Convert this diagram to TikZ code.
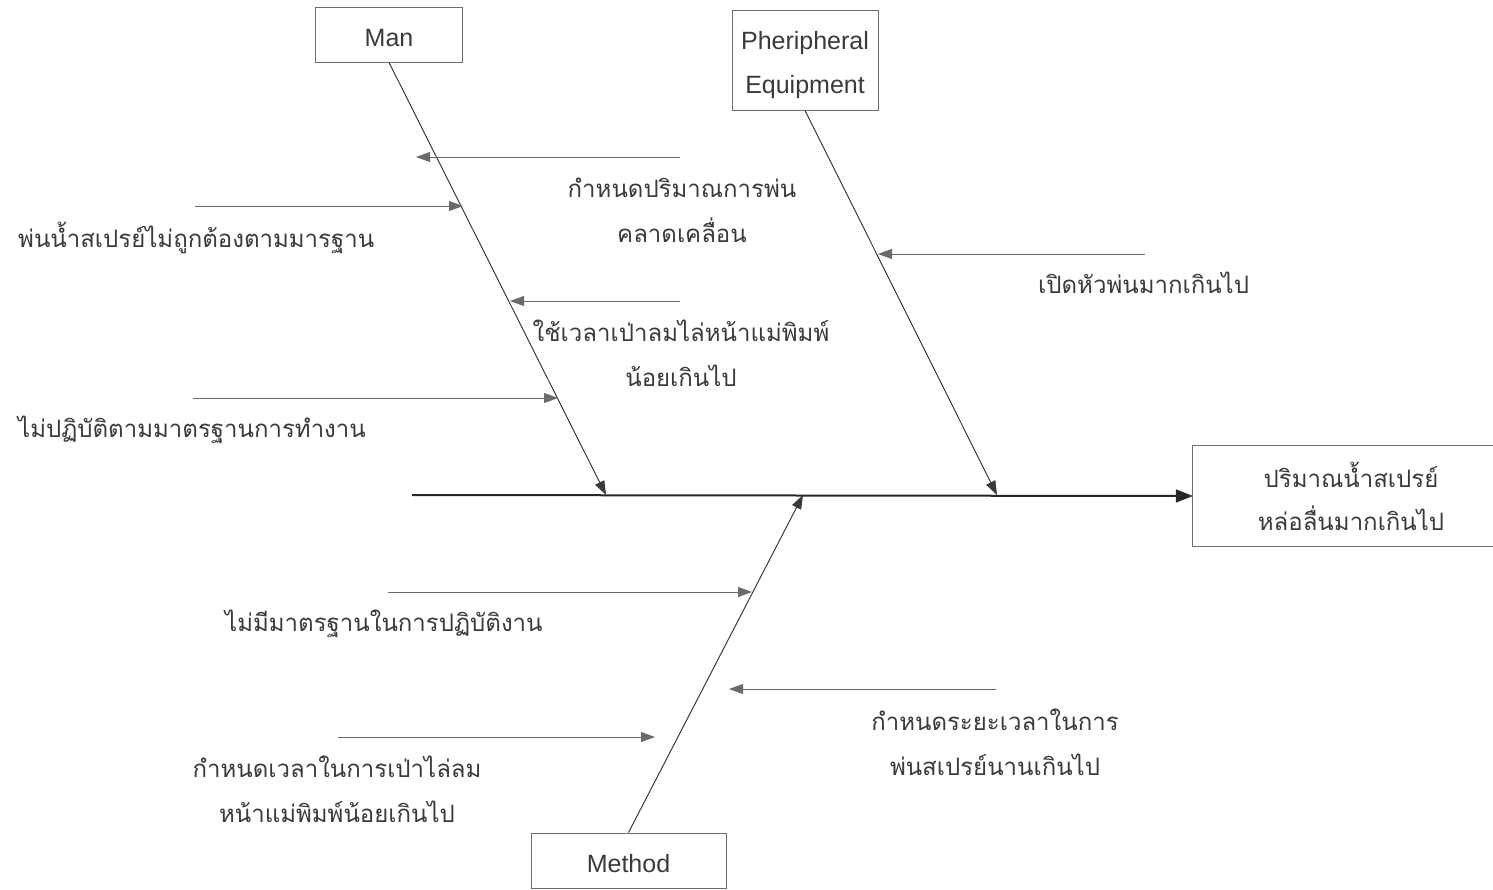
\documentclass[tikz,border=0pt]{standalone}
\usepackage{fontspec}
\setmainfont{Liberation Sans}
\newfontfamily\thaifont[Script=Thai]{Loma}
\usetikzlibrary{arrows.meta}
\definecolor{ink}{HTML}{3A3A3A}
\definecolor{boxgray}{HTML}{6E6E6E}
\definecolor{twig}{HTML}{6A6A6A}
\begin{document}
\begin{tikzpicture}[x=1pt,y=-1pt,
  catbox/.style={draw=boxgray, line width=0.9pt, inner sep=0pt, text=ink,
    align=center, font=\fontsize{25}{44}\selectfont},
  cause/.style={inner sep=0pt, text=ink, align=center,
    font=\thaifont\fontsize{24}{45}\selectfont},
  tip/.style={-{Triangle[length=14pt,width=10pt]}},
  bone/.style={draw=ink, line width=1pt, tip},
  twigline/.style={draw=twig, line width=0.8pt, tip},
  spine/.style={draw=black!85, line width=2pt, -{Triangle[length=17pt,width=13pt]}}
]
\useasboundingbox (0,0) rectangle (1493,889);

% category boxes
\node[catbox, minimum width=147pt, minimum height=55pt] (man) at (389,34.5) {};
\node[text=ink, font=\fontsize{25}{44}\selectfont, inner sep=0pt] (manlabel) at (389,38) {Man};
\node[catbox, minimum width=146pt, minimum height=100pt] (equip) at (805,60) {};
\node[text=ink, align=center, font=\fontsize{25}{44}\selectfont, inner sep=0pt] (equiplabel) at (805,65) {Pheripheral\\Equipment};
\node[catbox, minimum width=195pt, minimum height=55pt] (method) at (628.5,860.5) {};
\node[text=ink, font=\fontsize{25}{44}\selectfont, inner sep=0pt] (methodlabel) at (628.5,864) {Method};

% effect box, open on the right
\node[inner sep=0pt, minimum width=300pt, minimum height=100pt] (effect) at (1343,496) {};
\node[inner sep=0pt, text=ink, align=center,
  font=\thaifont\fontsize{24}{43}\selectfont] (effectlabel) at (1351,496)
  {ปริมาณน้ำสเปรย์\\หล่อลื่นมากเกินไป};
\draw[boxgray, line width=0.9pt] (effect.north east) -- (effect.north west)
  -- (effect.south west) -- (effect.south east);

% spine
\coordinate (tail) at (412,495);
\draw[spine] (tail) -- (effect.west);

% main bones
\coordinate (manEnd) at (606,495);
\coordinate (equipEnd) at (997,495);
\coordinate (methodEnd) at (803,495);
\draw[bone] (man.south) -- (manEnd);
\draw[bone] (equip.south) -- (equipEnd);
\draw[bone] (method.north) -- (methodEnd);

% cause labels
\node[cause] (c1) at (682,210) {กำหนดปริมาณการพ่น\\คลาดเคลื่อน};
\node[cause, anchor=base west] (c2) at (18,247) {พ่นน้ำสเปรย์ไม่ถูกต้องตามมารฐาน};
\node[cause] (c3) at (681,353) {ใช้เวลาเป่าลมไล่หน้าแม่พิมพ์\\น้อยเกินไป};
\node[cause, anchor=base west] (c4) at (18,437) {ไม่ปฏิบัติตามมาตรฐานการทำงาน};
\node[cause, anchor=base west] (c5) at (1038,293) {เปิดหัวพ่นมากเกินไป};
\node[cause, anchor=base west] (c6) at (225,631) {ไม่มีมาตรฐานในการปฏิบัติงาน};
\node[cause] (c7) at (995,742) {กำหนดระยะเวลาในการ\\พ่นสเปรย์นานเกินไป};
\node[cause] (c8) at (337,789) {กำหนดเวลาในการเป่าไล่ลม\\หน้าแม่พิมพ์น้อยเกินไป};

% cause arrows
\coordinate (a1s) at (680,157);  \coordinate (a1e) at (416,157);
\coordinate (a2s) at (195,206);  \coordinate (a2e) at (463,206);
\coordinate (a3s) at (680,301);  \coordinate (a3e) at (510,301);
\coordinate (a4s) at (193,398);  \coordinate (a4e) at (558,398);
\coordinate (a5s) at (1145,254); \coordinate (a5e) at (878,254);
\coordinate (a6s) at (388,592);  \coordinate (a6e) at (752,592);
\coordinate (a7s) at (996,689);  \coordinate (a7e) at (729,689);
\coordinate (a8s) at (338,737);  \coordinate (a8e) at (655,737);
\foreach \i in {1,...,8} \draw[twigline] (a\i s) -- (a\i e);
\end{tikzpicture}
\end{document}
